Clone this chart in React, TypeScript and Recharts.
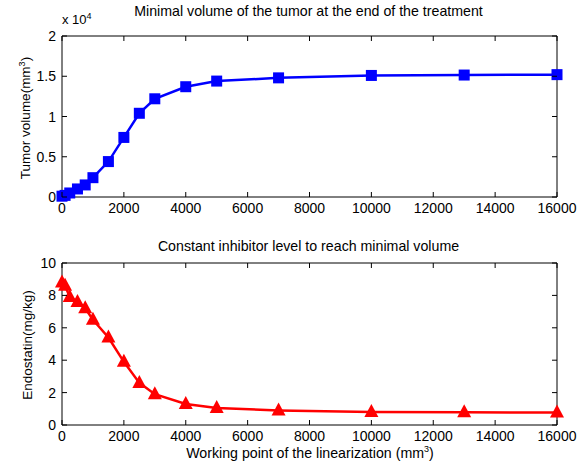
import React from "react";
import { LineChart, Line, XAxis, YAxis } from "recharts";

// working point of the linearization (mm^3)
const workingPoints = [0, 100, 250, 500, 750, 1000, 1500, 2000, 2500, 3000, 4000, 5000, 7000, 10000, 13000, 16000];
// minimal tumor volume at end of treatment (mm^3)
const tumorVolume = [100, 200, 500, 1000, 1500, 2400, 4400, 7400, 10400, 12200, 13700, 14400, 14800, 15100, 15150, 15200];
// constant endostatin level (mg/kg)
const endostatin = [8.8, 8.6, 7.9, 7.6, 7.2, 6.5, 5.4, 3.9, 2.6, 1.9, 1.3, 1.05, 0.9, 0.8, 0.78, 0.77];

const xTicks = [0, 2000, 4000, 6000, 8000, 10000, 12000, 14000, 16000];
const volumeTicks = [0, 5000, 10000, 15000, 20000];
const endoTicks = [0, 2, 4, 6, 8, 10];

const topData = workingPoints.map((x, i) => ({ x, v: tumorVolume[i] }));
const bottomData = workingPoints.map((x, i) => ({ x, v: endostatin[i] }));

const FONT = "'Liberation Sans', Arial, sans-serif";
const TICK_LEN = 5;
const GAP = 6; // tickMargin, so axis line sits GAP px from tick text anchor

// matlab-style ticks pointing into the box
const leftTick = (fmt: (v: number) => string) => (p: any) => (
  <g key={`l-${p.payload.value}`}>
    <line x1={p.x + GAP} x2={p.x + GAP + TICK_LEN} y1={p.y} y2={p.y} stroke="#000" />
    <text x={p.x} y={p.y} dy={5} textAnchor="end" fontSize={14} fill="#000" fontFamily={FONT}>
      {fmt(p.payload.value)}
    </text>
  </g>
);
const rightTick = (p: any) => (
  <line key={`r-${p.payload.value}`} x1={p.x - GAP} x2={p.x - GAP - TICK_LEN} y1={p.y} y2={p.y} stroke="#000" />
);
const bottomTick = (p: any) => (
  <g key={`b-${p.payload.value}`}>
    <line x1={p.x} x2={p.x} y1={p.y - GAP} y2={p.y - GAP - TICK_LEN} stroke="#000" />
    <text x={p.x} y={p.y} dy={10} textAnchor="middle" fontSize={14} fill="#000" fontFamily={FONT}>
      {p.payload.value}
    </text>
  </g>
);
const topTick = (p: any) => (
  <line key={`t-${p.payload.value}`} x1={p.x} x2={p.x} y1={p.y + GAP} y2={p.y + GAP + TICK_LEN} stroke="#000" />
);

const squareDot = (p: any) => (
  <rect key={`s-${p.index}`} x={p.cx - 5.5} y={p.cy - 5.5} width={11} height={11} fill="#0000ff" />
);
const triangleDot = (p: any) => (
  <polygon
    key={`t-${p.index}`}
    points={`${p.cx},${p.cy - 8} ${p.cx - 7},${p.cy + 5} ${p.cx + 7},${p.cy + 5}`}
    fill="#ff0000"
  />
);

const textStyle: React.CSSProperties = {
  position: "absolute",
  fontFamily: FONT,
  color: "#000",
  whiteSpace: "nowrap",
};

const axisLine = { stroke: "#000", strokeWidth: 1 };

export default function App() {
  return (
    <div style={{ position: "absolute", left: 0, top: 0, width: 587, height: 468, background: "#fff", fontFamily: FONT }}>
      {/* top panel */}
      <div style={{ position: "absolute", left: 0, top: 0 }}>
        <LineChart width={587} height={230} data={topData} margin={{ top: 35, right: 29, left: 22, bottom: 3 }}>
          <XAxis dataKey="x" type="number" domain={[0, 16000]} ticks={xTicks} height={30}
            axisLine={axisLine} tickLine={false} tickSize={0} tickMargin={GAP} tick={bottomTick} interval={0} />
          <XAxis xAxisId="top" orientation="top" dataKey="x" type="number" domain={[0, 16000]} ticks={xTicks} height={1}
            axisLine={axisLine} tickLine={false} tickSize={0} tickMargin={GAP} tick={topTick} interval={0} />
          <YAxis type="number" domain={[0, 20000]} ticks={volumeTicks} width={40}
            axisLine={axisLine} tickLine={false} tickSize={0} tickMargin={GAP} tick={leftTick((v) => String(v / 10000))} interval={0} />
          <YAxis yAxisId="right" orientation="right" type="number" domain={[0, 20000]} ticks={volumeTicks} width={1}
            axisLine={axisLine} tickLine={false} tickSize={0} tickMargin={GAP} tick={rightTick} interval={0} />
          <Line xAxisId="top" yAxisId="right" dataKey="v" stroke="none" dot={false} activeDot={false} isAnimationActive={false} />
          <Line dataKey="v" stroke="#0000ff" strokeWidth={2.5} dot={squareDot} isAnimationActive={false} />
        </LineChart>
      </div>
      <div style={{ ...textStyle, left: 0, width: 617, top: 3, textAlign: "center", fontSize: 14.2 }}>
        Minimal volume of the tumor at the end of the treatment
      </div>
      <div style={{ ...textStyle, left: 62, top: 11, fontSize: 13 }}>
        x 10<sup style={{ fontSize: 9 }}>4</sup>
      </div>
      <div style={{ ...textStyle, left: 25, top: 118, fontSize: 13.5, transform: "translate(-50%, -50%) rotate(-90deg)" }}>
        Tumor volume(mm<sup style={{ fontSize: 9 }}>3</sup>)
      </div>

      {/* bottom panel */}
      <div style={{ position: "absolute", left: 0, top: 230 }}>
        <LineChart width={587} height={238} data={bottomData} margin={{ top: 32, right: 29, left: 22, bottom: 13 }}>
          <XAxis dataKey="x" type="number" domain={[0, 16000]} ticks={xTicks} height={30}
            axisLine={axisLine} tickLine={false} tickSize={0} tickMargin={GAP} tick={bottomTick} interval={0} />
          <XAxis xAxisId="top" orientation="top" dataKey="x" type="number" domain={[0, 16000]} ticks={xTicks} height={1}
            axisLine={axisLine} tickLine={false} tickSize={0} tickMargin={GAP} tick={topTick} interval={0} />
          <YAxis type="number" domain={[0, 10]} ticks={endoTicks} width={40}
            axisLine={axisLine} tickLine={false} tickSize={0} tickMargin={GAP} tick={leftTick((v) => String(v))} interval={0} />
          <YAxis yAxisId="right" orientation="right" type="number" domain={[0, 10]} ticks={endoTicks} width={1}
            axisLine={axisLine} tickLine={false} tickSize={0} tickMargin={GAP} tick={rightTick} interval={0} />
          <Line xAxisId="top" yAxisId="right" dataKey="v" stroke="none" dot={false} activeDot={false} isAnimationActive={false} />
          <Line dataKey="v" stroke="#ff0000" strokeWidth={2.5} dot={triangleDot} isAnimationActive={false} />
        </LineChart>
      </div>
      <div style={{ ...textStyle, left: 0, width: 617, top: 238, textAlign: "center", fontSize: 14.2 }}>
        Constant inhibitor level to reach minimal volume
      </div>
      <div style={{ ...textStyle, left: 27, top: 345, fontSize: 13.5, transform: "translate(-50%, -50%) rotate(-90deg)" }}>
        Endostatin(mg/kg)
      </div>
      <div style={{ ...textStyle, left: 0, width: 620, top: 444, textAlign: "center", fontSize: 14.2 }}>
        Working point of the linearization (mm<sup style={{ fontSize: 9 }}>3</sup>)
      </div>
    </div>
  );
}
